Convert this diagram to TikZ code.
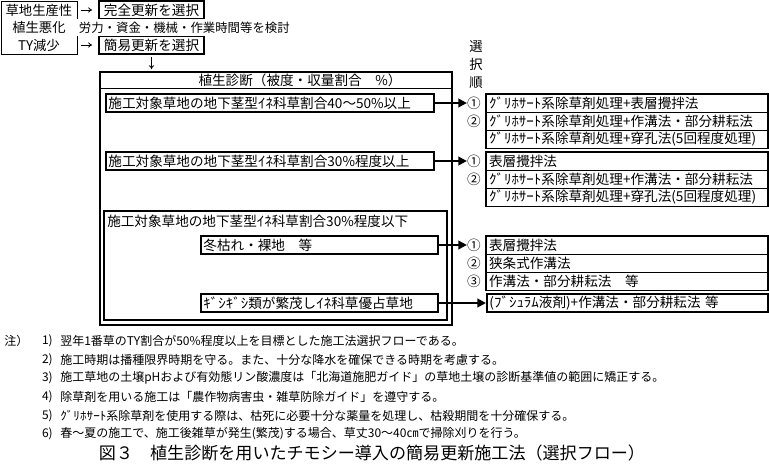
\documentclass[tikz,border=0pt]{standalone}
\usepackage{fontspec}
\setmainfont{Noto Sans CJK JP}
\usepackage{graphicx}
\usepackage{tikz}
\usetikzlibrary{arrows.meta}
\newcommand\hk[1]{\scalebox{1.1}[1]{#1}}

\begin{document}
\begin{tikzpicture}[x=0.75pt,y=-0.75pt,
  every node/.style={inner sep=0pt,font=\fontsize{10.2}{13}\selectfont},
  thinbox/.style={draw,line width=0.6pt},
  boldbox/.style={draw,line width=1.2pt},
  rowbox/.style={boldbox,anchor=west,minimum height=13.5pt,text width=#1,inner xsep=2pt,align=left},
  methodrow/.style={thinbox,anchor=west,minimum height=13.5pt,text width=206.75pt,inner xsep=2pt,align=left,font=\fontsize{10.2}{13}\selectfont},
  notetext/.style={anchor=west,font=\fontsize{9}{11}\selectfont},
  noteno/.style={anchor=east,font=\fontsize{9}{11}\selectfont},
  flow/.style={line width=1.5pt,-{Triangle[length=6.5pt,width=6.5pt]}},
  glyph/.style={line width=0.6pt,-{To[length=3pt,width=4pt]}}]
  \useasboundingbox (0,0) rectangle (769,467);

  % decision at the top
  \node at (39,27.5) (cause) [thinbox,minimum width=57pt,minimum height=39.75pt,align=center,font=\fontsize{10}{13.1}\selectfont] {草地生産性\\植生悪化\\TY減少};
  \node at (151.5,10) (full) [boldbox,minimum width=78.75pt,minimum height=13.5pt] {完全更新を選択};
  \node at (151.5,45) (easy) [boldbox,minimum width=78.75pt,minimum height=13.5pt] {簡易更新を選択};
  \node at (76,27.5) (cost) [anchor=west,fill=white,inner xsep=2pt,minimum height=12.75pt,font=\fontsize{9.3}{11}\selectfont] {労力・資金・機械・作業時間等を検討};
  \draw[glyph,shorten <=3pt,shorten >=4.5pt] (cause.east |- full) -- (full.west);
  \draw[glyph,shorten <=3pt,shorten >=4.5pt] (cause.east |- easy) -- (easy.west);

  % vegetation diagnosis
  \node at (276,198.5) (diag) [boldbox,minimum width=264pt,minimum height=189.75pt] {};
  \draw[glyph,shorten <=2pt,shorten >=1.5pt] (easy.south) -- (easy.south |- diag.north);
  \coordinate (hl) at (0,88);
  \draw[line width=0.6pt] (diag.west |- hl) -- (diag.east |- hl);
  \node at (300,80) (head) {植生診断（被度・収量割合　\%）};
  \node at (105,103) (r1) [rowbox=242pt] {施工対象草地の地下茎型\hk{ｲﾈ}科草割合40～50\%以上};
  \node at (105,161) (r2) [rowbox=242pt] {施工対象草地の地下茎型\hk{ｲﾈ}科草割合30\%程度以上};
  \node at (275.5,265.5) (low) [boldbox,minimum width=257.25pt,minimum height=81.75pt] {};
  \node at (107,221) (lowhead) [anchor=west] {施工対象草地の地下茎型\hk{ｲﾈ}科草割合30\%程度以下};
  \node at (200,245) (r3) [rowbox=173.75pt] {冬枯れ・裸地　等};
  \node at (200,303) (r4) [rowbox=173.75pt] {\hk{ｷﾞｼｷﾞｼ}類が繁茂し\hk{ｲﾈ}科草優占草地};

  % selection order
  \node at (476,65) (order) [align=center,font=\fontsize{10}{13.5}\selectfont] {選\\択\\順};

  \node at (486,103) (g11) [methodrow] {\hk{ｸﾞﾘﾎｻｰﾄ}系除草剤処理+表層攪拌法};
  \node at (486,121) (g12) [methodrow] {\hk{ｸﾞﾘﾎｻｰﾄ}系除草剤処理+作溝法・部分耕耘法};
  \node at (486,139) (g13) [methodrow] {\hk{ｸﾞﾘﾎｻｰﾄ}系除草剤処理+穿孔法(5回程度処理)};
  \draw[line width=1.2pt] (g11.north west) rectangle (g13.south east);
  \node at (474,103) (n11) {①};
  \node at (474,121) (n12) {②};

  \node at (486,161) (g21) [methodrow] {表層攪拌法};
  \node at (486,179) (g22) [methodrow] {\hk{ｸﾞﾘﾎｻｰﾄ}系除草剤処理+作溝法・部分耕耘法};
  \node at (486,197) (g23) [methodrow] {\hk{ｸﾞﾘﾎｻｰﾄ}系除草剤処理+穿孔法(5回程度処理)};
  \draw[line width=1.2pt] (g21.north west) rectangle (g23.south east);
  \node at (474,161) (n21) {①};
  \node at (474,179) (n22) {②};

  \node at (486,245) (g31) [methodrow] {表層攪拌法};
  \node at (486,263) (g32) [methodrow] {狭条式作溝法};
  \node at (486,281) (g33) [methodrow] {作溝法・部分耕耘法　等};
  \draw[line width=1.2pt] (g31.north west) rectangle (g33.south east);
  \node at (474,245) (n31) {①};
  \node at (474,263) (n32) {②};
  \node at (474,281) (n33) {③};

  \node at (486,303) (g41) [methodrow,line width=1.2pt] {(\hk{ﾌﾞｼｭﾗﾑ}液剤)+作溝法・部分耕耘法 等};

  \path[flow]
    (r1) edge (n11)
    (r2) edge (n21)
    (r3) edge (n31)
    (r4) edge (g41)
    ;

  % notes
  \node at (4,341) (note) [notetext] {注）};
  \node at (53,341) (k1) [noteno] {1)};
  \node at (60,341) (t1) [notetext] {翌年1番草のTY割合が50\%程度以上を目標とした施工法選択フローである。};
  \node at (53,359.6) (k2) [noteno] {2)};
  \node at (60,359.6) (t2) [notetext] {施工時期は播種限界時期を守る。また、十分な降水を確保できる時期を考慮する。};
  \node at (53,378.2) (k3) [noteno] {3)};
  \node at (60,378.2) (t3) [notetext] {施工草地の土壌pHおよび有効態リン酸濃度は「北海道施肥ガイド」の草地土壌の診断基準値の範囲に矯正する。};
  \node at (53,396.8) (k4) [noteno] {4)};
  \node at (60,396.8) (t4) [notetext] {除草剤を用いる施工は「農作物病害虫・雑草防除ガイド」を遵守する。};
  \node at (53,415.4) (k5) [noteno] {5)};
  \node at (60,415.4) (t5) [notetext] {\hk{ｸﾞﾘﾎｻｰﾄ}系除草剤を使用する際は、枯死に必要十分な薬量を処理し、枯殺期間を十分確保する。};
  \node at (53,434) (k6) [noteno] {6)};
  \node at (60,434) (t6) [notetext] {春～夏の施工で、施工後雑草が発生(繁茂)する場合、草丈30～40㎝で掃除刈りを行う。};

  \node at (372,453) (caption) [font=\fontsize{12.8}{14}\selectfont] {図３　植生診断を用いたチモシー導入の簡易更新施工法（選択フロー）};
\end{tikzpicture}
\end{document}
